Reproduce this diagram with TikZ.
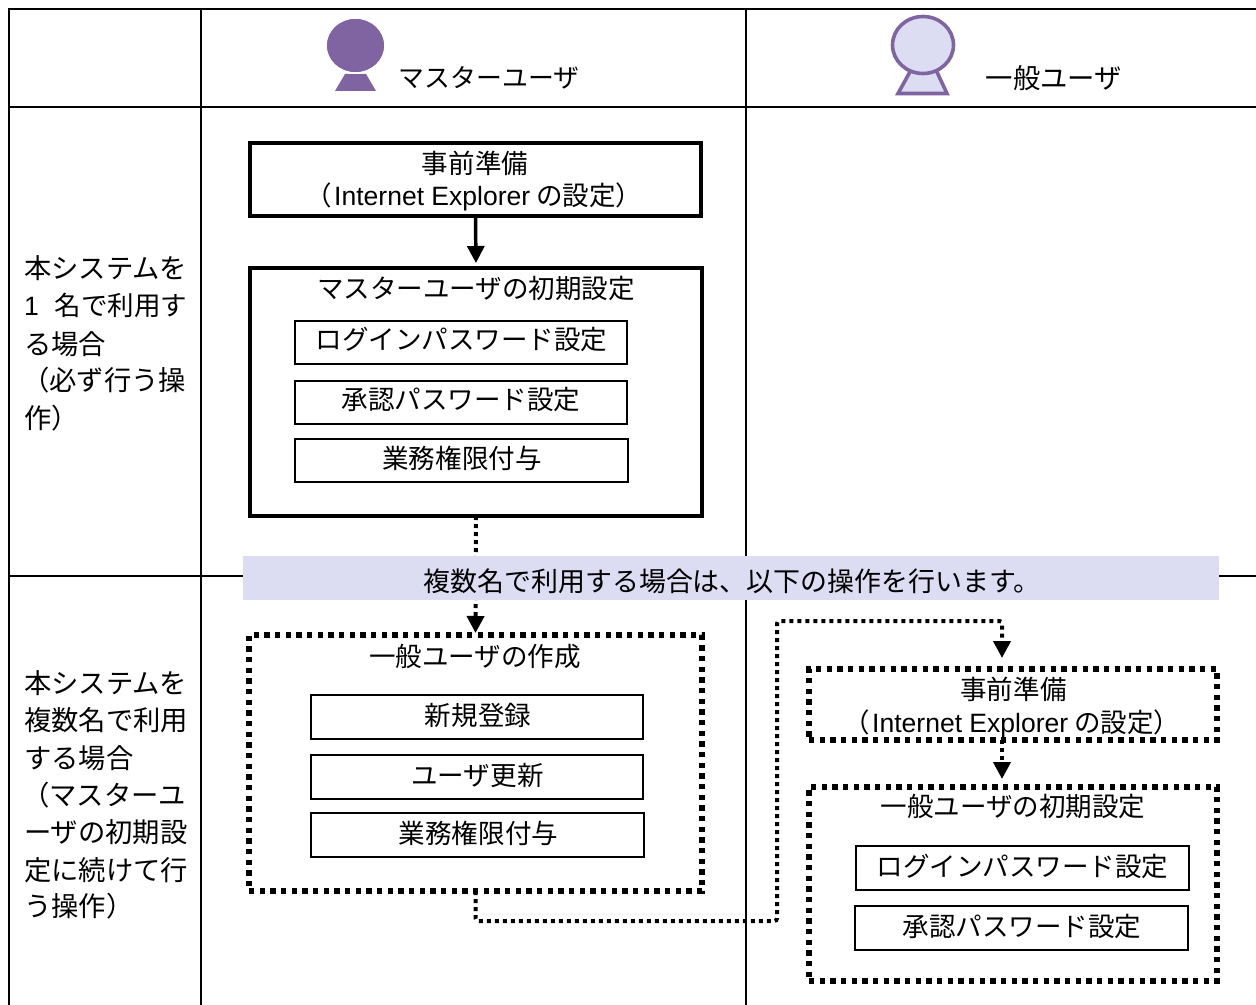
\documentclass[tikz,border=0pt]{standalone}
\usepackage{fontspec}
\setmainfont{Noto Sans CJK JP}
\newfontfamily\lat{Liberation Sans}
\usetikzlibrary{arrows.meta}
\definecolor{bandc}{HTML}{DCDCF2}
\definecolor{purp}{HTML}{8064A2}
\tikzset{
 x=0.75pt,y=-0.75pt,
 grid/.style={line width=1.5pt,black},
 txt/.style={inner sep=0,outer sep=0,anchor=base,font=\fontsize{19.9}{24}\selectfont},
 ltxt/.style={txt,anchor=base west,font=\fontsize{20.5}{24}\selectfont},
 thick box/.style={draw=black,line width=3pt,inner sep=0,outer sep=0,fill=white},
 dot box/.style={draw=black,line width=3.9pt,dash pattern=on 4pt off 4pt,inner sep=0,outer sep=0},
 sub box/.style={draw=black,line width=1.5pt,inner sep=0,outer sep=0,fill=white},
 tip/.style={-{Triangle[length=12.75pt,width=12.75pt]}},
 solidconn/.style={line width=2.6pt,black,tip},
 dotconn/.style={line width=3pt,black,dash pattern=on 3pt off 3pt,tip,rounded corners=2pt},
}
\newcommand\abox[6]{\node[#1,minimum width=#5*0.75pt-#3*0.75pt,minimum height=#6*0.75pt-#4*0.75pt] (#2) at ({(#3+#5)/2},{(#4+#6)/2}) {};}
\newcommand\ie{（\kern1.5pt{\lat Internet Explorer} の設定）}
\begin{document}
\begin{tikzpicture}
\useasboundingbox (0,0) rectangle (1256,1005);
% grid
\draw[grid] (1256,9) -- (9,9) -- (9,1005);
\draw[grid] (201,9) -- (201,1005);
\draw[grid] (746,9) -- (746,1005);
\draw[grid] (9,107) -- (1256,107);
\draw[grid] (9,576) -- (1256,576);
% header icons
\fill[purp] (335,91) -- (345,74) -- (366,74) -- (376,91) -- cycle;
\draw[white,line width=1.5pt,fill=purp] (355.5,45.5) ellipse [x radius=29.5,y radius=27.5];
\fill[purp] (355.5,45.5) ellipse [x radius=28.5,y radius=26.5];
\draw[purp,line width=2.7pt,fill=bandc,line join=miter] (898,93.5) -- (911,70) -- (936,70) -- (947,93.5) -- cycle;
\draw[purp,line width=2.7pt,fill=bandc] (923,45) ellipse [x radius=30.5,y radius=28.5];
\node[txt,font=\fontsize{19.4}{24}\selectfont] (hm) at (489,88) {マスターユーザ};
\node[txt,font=\fontsize{20.5}{24}\selectfont] (hg) at (1054,89) {一般ユーザ};
% row labels
\node[ltxt] (l1) at (24,279) {本システムを};
\node[ltxt,font=\fontsize{19.9}{24}\selectfont] (l2) at (24,316) {{\lat 1}\kern12pt 名で利用す};
\node[ltxt] (l3) at (24,354) {る場合};
\node[ltxt] (l4) at (22,391) {（必ず行う操};
\node[ltxt] (l5) at (24,428) {作）};
\node[ltxt] (m1) at (24,693) {本システムを};
\node[ltxt] (m2) at (24,730) {複数名で利用};
\node[ltxt] (m3) at (24,768) {する場合};
\node[ltxt] (m4) at (22,805) {（マスターユ};
\node[ltxt] (m5) at (24,842) {ーザの初期設};
\node[ltxt] (m6) at (24,880) {定に続けて行};
\node[ltxt] (m7) at (24,916) {う操作）};
% boxes master
\abox{thick box}{a}{250}{143}{701}{216}
\abox{thick box}{b}{250}{268}{702}{516}
\abox{sub box}{b1}{295}{321}{627}{364}
\abox{sub box}{b2}{295}{381}{627}{424}
\abox{sub box}{b3}{295}{439}{628}{482}
\abox{dot box}{c}{249}{635}{702}{891}
\abox{sub box}{c1}{311}{695}{643}{739}
\abox{sub box}{c2}{311}{755}{643}{799}
\abox{sub box}{c3}{311}{813}{644}{857}
\abox{dot box}{d}{809}{669}{1217}{740}
\abox{dot box}{e}{809}{787}{1217}{981}
\abox{sub box}{e1}{856}{846}{1189}{890}
\abox{sub box}{e2}{855}{906}{1188}{950}
% connectors
\draw[solidconn,shorten >=3.75pt] (a.south) -- (b.north);
\draw[dotconn,shorten >=1.5pt] (b.south) -- (c.north);
\coordinate (p1) at (475.5,921);
\coordinate (p2) at (777,921);
\coordinate (p3) at (777,621);
\coordinate (p4) at (1002,621);
\draw[dotconn,shorten >=8.25pt] (c.south) -- (p1) -- (p2) -- (p3) -- (p4) -- (p4 |- d.north);
\draw[dotconn,shorten >=6pt] (p4 |- d.south) -- (p4 |- e.north);
% band
\fill[bandc] (243,556) rectangle (1219,600);
\node[txt,font=\fontsize{20.2}{24}\selectfont] (band) at (732,591) {複数名で利用する場合は、以下の操作を行います。};
% texts in boxes
\node[txt] (a1) at (475,174) {事前準備};
\node[txt] (a2) at (474,206) {\ie};
\node[txt] (bt) at (476,299) {マスターユーザの初期設定};
\node[txt] at (461.5,350) {ログインパスワード設定};
\node[txt] at (461,409.5) {承認パスワード設定};
\node[txt] at (462,468.5) {業務権限付与};
\node[txt] (ct) at (475,666) {一般ユーザの作成};
\node[txt] at (478,725) {新規登録};
\node[txt] at (477.5,785) {ユーザ更新};
\node[txt] at (478.5,843.5) {業務権限付与};
\node[txt] (d1) at (1013.5,699.5) {事前準備};
\node[txt] (d2) at (1012,732) {\ie};
\node[txt] (et) at (1013,816) {一般ユーザの初期設定};
\node[txt] at (1022.5,876.5) {ログインパスワード設定};
\node[txt] at (1022,936) {承認パスワード設定};
\end{tikzpicture}
\end{document}
